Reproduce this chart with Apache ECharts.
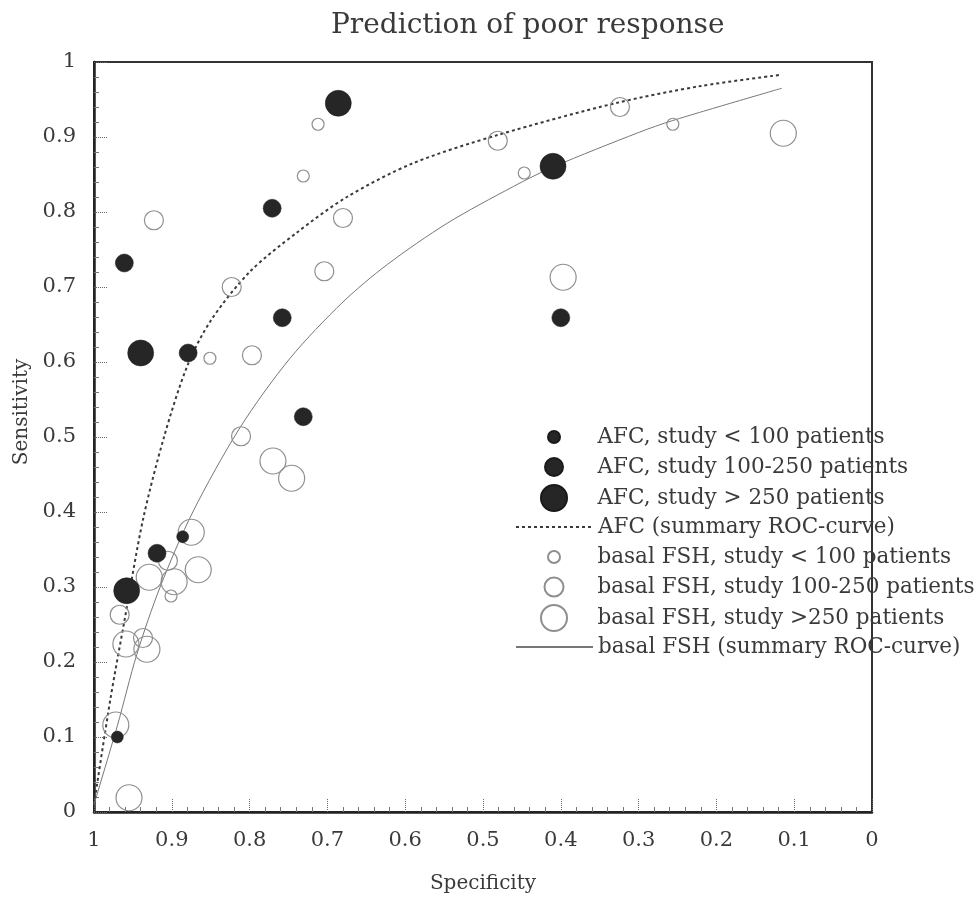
<!DOCTYPE html>
<html>
<head>
<meta charset="utf-8">
<script src="https://cdn.jsdelivr.net/npm/echarts@6/dist/echarts.min.js"></script>
<style>
html,body{margin:0;padding:0;background:#fff;}
#chart{width:979px;height:904px;}
</style>
</head>
<body>
<div id="chart"></div>
<script>
// [specificity, sensitivity]
var afcSmall = [[0.886,0.367],[0.970,0.100]];
var afcMedium = [[0.961,0.732],[0.879,0.612],[0.771,0.805],[0.758,0.659],[0.731,0.527],[0.919,0.345],[0.400,0.659]];
var afcLarge = [[0.686,0.945],[0.940,0.612],[0.410,0.861],[0.958,0.295]];
var fshSmall = [[0.712,0.917],[0.731,0.848],[0.851,0.605],[0.447,0.852],[0.256,0.917],[0.901,0.288]];
var fshMedium = [[0.680,0.792],[0.823,0.700],[0.704,0.721],[0.797,0.609],[0.481,0.895],[0.324,0.940],[0.811,0.501],[0.923,0.789],[0.905,0.335],[0.967,0.263],[0.937,0.232]];
var fshLarge = [[0.397,0.713],[0.114,0.905],[0.770,0.468],[0.746,0.445],[0.875,0.373],[0.866,0.323],[0.929,0.313],[0.897,0.307],[0.959,0.224],[0.932,0.217],[0.972,0.116],[0.955,0.019]];
var afcCurve = [[1,0.01],[0.979,0.15],[0.96,0.26],[0.937,0.39],[0.91,0.50],[0.88,0.595],[0.85,0.655],[0.80,0.72],[0.74,0.772],[0.675,0.82],[0.59,0.865],[0.48,0.903],[0.33,0.945],[0.22,0.968],[0.116,0.983]];
var fshCurve = [[1,0.01],[0.97,0.115],[0.945,0.21],[0.915,0.30],[0.873,0.40],[0.812,0.513],[0.748,0.605],[0.68,0.68],[0.623,0.73],[0.546,0.785],[0.461,0.834],[0.41,0.86],[0.30,0.906],[0.256,0.922],[0.116,0.965]];
var seriesNames = ['AFC, study < 100 patients','AFC, study 100-250 patients','AFC, study > 250 patients','AFC (summary ROC-curve)','basal FSH, study < 100 patients','basal FSH, study 100-250 patients','basal FSH, study >250 patients','basal FSH (summary ROC-curve)'];

var FONT = 'DejaVu Serif';
var TXT = '#3a3a3a';
var filled = {color:'#262626', borderColor:'#1a1a1a', borderWidth:0.5, opacity:1};
var hollow = {color:'rgba(255,255,255,0)', borderColor:'#8f8f8f', borderWidth:1.2, opacity:1};
var sizes = [12,18,26,0,12,19,26,0];
var rowY = [437,467,497,527,557,587,617,647];
var symCenter = 553;

var legends = seriesNames.map(function(n,i){
  var isLine = (i===3||i===7);
  return {
    data: isLine ? [{name:n, itemStyle:{opacity:0}}] : [n],
    left: isLine ? 515 : symCenter - sizes[i]/2,
    top: rowY[i]-13, orient:'vertical',
    itemWidth:77, itemHeight: isLine ? 4 : sizes[i], itemGap:0,
    padding:0,
    textStyle:{fontFamily:FONT,fontSize:21.5,color:TXT,lineHeight:26},
    selectedMode:false
  };
});

var chart = echarts.init(document.getElementById('chart'), null, {renderer:'canvas'});
chart.setOption({
  backgroundColor:'#fff',
  animation:false,
  title:{text:'Prediction of poor response', left:326, top:7,
    textStyle:{fontFamily:FONT,fontSize:28,fontWeight:'normal',color:TXT}},
  legend: legends,
  grid:{left:94, right:107, top:62, bottom:92, containLabel:false, outerBoundsMode:'none',
    show:true, borderColor:'#333', borderWidth:2, backgroundColor:'transparent'},
  xAxis:{type:'value', min:0, max:1, interval:0.1, inverse:true,
    name:'Specificity', nameLocation:'middle', nameGap:62,
    nameTextStyle:{fontFamily:FONT,fontSize:20,color:TXT},
    axisLine:{show:true,onZero:false,lineStyle:{color:'#222',width:2.5}},
    axisTick:{show:true,inside:true,length:14,lineStyle:{color:'#666',type:'dotted'}},
    minorTick:{show:true,splitNumber:5,length:5,lineStyle:{color:'#777'}},
    axisLabel:{fontFamily:FONT,fontSize:21,color:TXT,margin:18},
    splitLine:{show:false}},
  yAxis:{type:'value', min:0, max:1, interval:0.1,
    name:'Sensitivity', nameLocation:'middle', nameGap:62, nameRotate:90,
    nameTextStyle:{fontFamily:FONT,fontSize:20,color:TXT,padding:[0,0,0,50]},
    axisLine:{show:true,onZero:false,lineStyle:{color:'#222',width:2.5}},
    axisTick:{show:true,inside:true,length:14,lineStyle:{color:'#666',type:'dotted'}},
    minorTick:{show:true,splitNumber:5,length:5,lineStyle:{color:'#777'}},
    axisLabel:{fontFamily:FONT,fontSize:21,color:TXT,margin:18},
    splitLine:{show:false}},
  series:[
    {name:seriesNames[0],type:'scatter',data:afcSmall,symbolSize:12,itemStyle:filled,z:5},
    {name:seriesNames[1],type:'scatter',data:afcMedium,symbolSize:18,itemStyle:filled,z:5},
    {name:seriesNames[2],type:'scatter',data:afcLarge,symbolSize:26,itemStyle:filled,z:5},
    {name:seriesNames[3],type:'line',data:afcCurve,smooth:0.3,symbol:'none',showSymbol:false,
      lineStyle:{color:'#3a3a3a',width:2,type:[3,3]},itemStyle:{color:'#3a3a3a'},z:3},
    {name:seriesNames[4],type:'scatter',data:fshSmall,symbolSize:12,itemStyle:hollow,z:4},
    {name:seriesNames[5],type:'scatter',data:fshMedium,symbolSize:19,itemStyle:hollow,z:4},
    {name:seriesNames[6],type:'scatter',data:fshLarge,symbolSize:26,itemStyle:hollow,z:4},
    {name:seriesNames[7],type:'line',data:fshCurve,smooth:0.3,symbol:'none',showSymbol:false,
      lineStyle:{color:'#777',width:1},itemStyle:{color:'#777'},z:3}
  ]
});
</script>
</body>
</html>
